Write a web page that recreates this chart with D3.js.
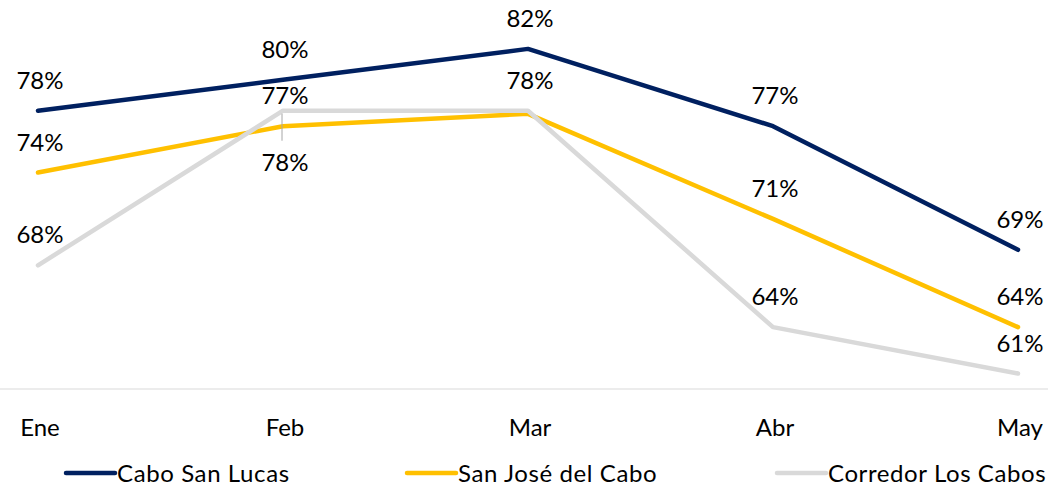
<!DOCTYPE html>
<html>
<head>
<meta charset="utf-8">
<script src="https://cdn.jsdelivr.net/npm/d3@7"></script>
<style>
  body { margin: 0; background: #fff; }
  text { font-family: Lato, "Open Sans", sans-serif; fill: #000; }
</style>
</head>
<body>
<div id="chart"></div>
<script>
var w = 1048,
    h = 487;

// Categories
var months = ["Ene", "Feb", "Mar", "Abr", "May"];

// Series values (%)
var caboSanLucas = [78, 80, 82, 77, 69];
var sanJose = [74, 77, 77.8, 71, 64];
var corredor = [68, 78, 78, 64, 61];

var seriesNames = ["Cabo San Lucas", "San José del Cabo", "Corredor Los Cabos"];
var seriesColors = ["#002060", "#ffc000", "#d9d9d9"];

var series = [caboSanLucas, sanJose, corredor].map(function(vals, i) {
  return { name: seriesNames[i], color: seriesColors[i], values: vals };
});

var x = d3.scalePoint().domain(months).range([38, 1018]);
var y = d3.scaleLinear().domain([60, 85]).range([389, 2.5]);

var svg = d3.select("#chart").append("svg")
  .attr("width", w)
  .attr("height", h);

// baseline axis
svg.append("line")
  .attr("x1", 0).attr("x2", w)
  .attr("y1", y(60)).attr("y2", y(60))
  .attr("stroke", "#d9d9d9")
  .attr("stroke-width", 1);

// category labels
svg.selectAll(".cat")
  .data(months)
  .enter().append("text")
  .attr("class", "cat")
  .attr("x", function(d) { return x(d) + 2; })
  .attr("y", 436)
  .attr("text-anchor", "middle")
  .attr("font-size", "24px")
  .text(function(d) { return d; });

var line = d3.line()
  .x(function(d, i) { return x(months[i]); })
  .y(function(d) { return y(d); });

svg.selectAll(".serie")
  .data(series)
  .enter().append("path")
  .attr("class", "serie")
  .attr("d", function(d) { return line(d.values); })
  .attr("fill", "none")
  .attr("stroke", function(d) { return d.color; })
  .attr("stroke-width", 4.5)
  .attr("stroke-linejoin", "round")
  .attr("stroke-linecap", "round");

// data labels
series.forEach(function(s, si) {
  s.values.forEach(function(v, i) {
    var m = months[i];
    if (si == 1 && m == "Mar") return; // hidden under the gray one
    var ly = y(v) - 22;
    if (si == 2 && m == "Feb") {
      // moved below, with leader line
      ly = y(v) + 60;
      svg.append("line")
        .attr("x1", x(m) - 1).attr("x2", x(m) - 1)
        .attr("y1", y(v) + 3).attr("y2", y(v) + 30)
        .attr("stroke", "#a6a6a6")
        .attr("stroke-width", 1);
    }
    svg.append("text")
      .attr("x", x(m) + 2)
      .attr("y", ly)
      .attr("text-anchor", "middle")
      .attr("font-size", "24px")
      .text(Math.round(v) + "%");
  });
});

// legend
var legendX = [66, 407, 777];
var legend = svg.selectAll(".legend")
  .data(series)
  .enter().append("g")
  .attr("class", "legend")
  .attr("transform", function(d, i) { return "translate(" + legendX[i] + ",473)"; });

legend.append("line")
  .attr("x1", 0).attr("x2", 49)
  .attr("stroke", function(d) { return d.color; })
  .attr("stroke-width", 4.5)
  .attr("stroke-linecap", "round");

legend.append("text")
  .attr("x", 51)
  .attr("y", 9)
  .attr("font-size", "24px")
  .attr("letter-spacing", "0.6px")
  .text(function(d) { return d.name; });
</script>
</body>
</html>
